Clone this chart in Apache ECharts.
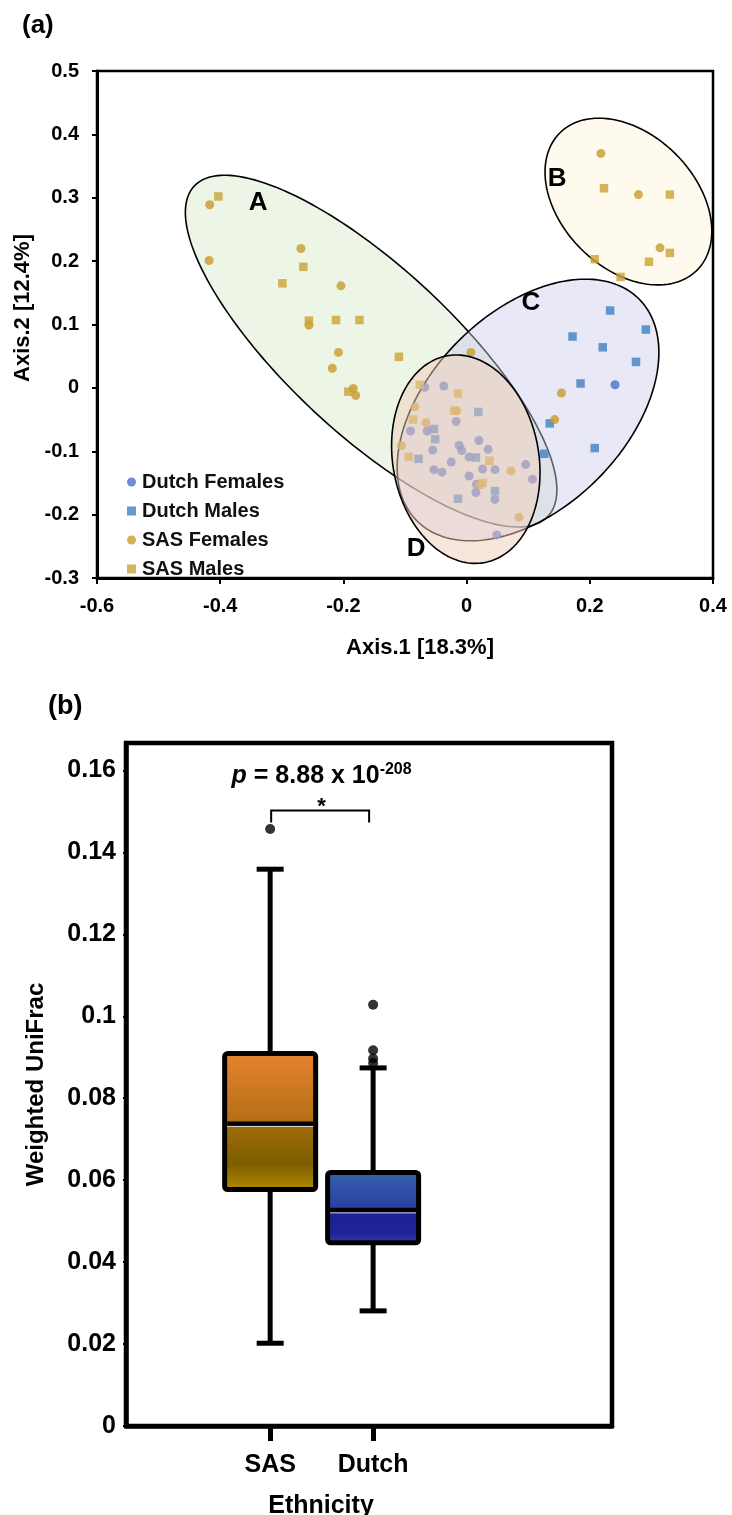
<!DOCTYPE html>
<html><head><meta charset="utf-8">
<script src="https://cdn.jsdelivr.net/npm/echarts@6/dist/echarts.min.js"></script>
<style>html,body{margin:0;padding:0;background:#fff}#main{width:732px;height:1515px}</style>
</head><body><div id="main"></div>
<script>
// ---------- Panel (a): PCoA scatter data ----------
const dutchFemales = [
  [0.241,0.005],
  [-0.068,0.001],[-0.037,0.003],[-0.017,-0.053],[-0.091,-0.068],[-0.064,-0.068],[0.020,-0.083],
  [-0.012,-0.091],[-0.008,-0.099],[0.035,-0.097],[-0.055,-0.098],[0.004,-0.109],[-0.025,-0.117],
  [0.096,-0.121],[0.026,-0.128],[0.046,-0.129],[-0.053,-0.129],[-0.040,-0.133],[0.004,-0.139],
  [0.107,-0.144],[0.016,-0.152],[0.015,-0.165],[0.046,-0.176],[0.049,-0.232]
];
const dutchMales = [
  [0.233,0.122],[0.291,0.092],[0.172,0.081],[0.221,0.064],[0.275,0.041],[0.185,0.007],
  [0.135,-0.056],[0.126,-0.104],[0.208,-0.095],
  [0.019,-0.038],[-0.053,-0.065],[-0.051,-0.081],[0.015,-0.110],[-0.078,-0.112],[0.046,-0.163],[-0.014,-0.175]
];
const sasFemales = [
  [-0.417,0.289],[-0.418,0.201],[-0.269,0.220],[-0.204,0.161],[-0.256,0.099],[-0.208,0.056],
  [-0.218,0.031],[-0.184,-0.001],[-0.180,-0.012],[0.218,0.370],[0.279,0.305],[0.314,0.221],
  [0.154,-0.008],[0.143,-0.050],[0.007,0.056],
  [-0.084,-0.030],[-0.016,-0.036],[-0.066,-0.055],[-0.106,-0.091],[0.072,-0.131],[0.022,-0.153],[0.085,-0.204]
];
const sasMales = [
  [-0.403,0.302],[-0.265,0.191],[-0.299,0.165],[-0.256,0.106],[-0.212,0.107],[-0.174,0.107],
  [-0.110,0.049],[-0.192,-0.006],[0.223,0.315],[0.330,0.305],[0.330,0.213],[0.208,0.203],
  [0.296,0.199],[0.250,0.175],
  [-0.076,0.005],[-0.014,-0.009],[-0.020,-0.036],[-0.087,-0.050],[-0.094,-0.109],[0.037,-0.115],[0.026,-0.150]
];
// cluster ellipses (data units): centre, half-axis vector U, half-axis vector V
const ellipseNames   = ['A','B','C','D'];
const ellipseCenters = [[-0.155,0.058],[0.2627,0.294],[0.0997,-0.0349],[-0.0013,-0.1125]];
const ellipseAxisU   = [[0.2872,-0.2604],[0.1114,-0.1082],[0.1802,0.1751],[-0.0299,0.1632]];
const ellipseAxisV   = [[-0.0919,-0.0958],[-0.0769,-0.0748],[0.1125,-0.1093],[0.1167,0.0202]];
const ellipseLabelPos = [[-0.3386,0.2918],[0.1468,0.3305],[0.1045,0.134],[-0.0821,-0.2542]];

// ---------- Panel (b): box plot data ----------
const ethnicities = ['SAS','Dutch'];
const boxMin    = [0.0202, 0.0281];
const boxQ1     = [0.0577, 0.0447];
const boxMedian = [0.0738, 0.0527];
const boxQ3     = [0.0909, 0.0619];
const boxMax    = [0.1359, 0.0874];
const sasOutliers   = [0.1457];
const dutchOutliers = [0.1028, 0.0917, 0.0897, 0.0886];
const pValueText = '8.88 x 10';
const pValueExp = '-208';

const FONT = '"Liberation Sans", Arial, Helvetica, sans-serif';
const chart = echarts.init(document.getElementById('main'), null, {renderer:'canvas'});

const ellipseFills = ['#edf5e6', '#fffaee', 'rgba(205,205,235,0.45)', 'rgba(240,205,185,0.5)'];

function ellipseRender(params, api) {
  const idx = api.value(2);
  const c = ellipseCenters[idx], u = ellipseAxisU[idx], v = ellipseAxisV[idx];
  const pts = [];
  for (let k = 0; k < 240; k++) {
    const t = k / 240 * Math.PI * 2;
    pts.push(api.coord([c[0] + Math.cos(t)*u[0] + Math.sin(t)*v[0], c[1] + Math.cos(t)*u[1] + Math.sin(t)*v[1]]));
  }
  return {type:'polygon', shape:{points:pts}, style:{fill: ellipseFills[idx], stroke:'#000', lineWidth:1.6}};
}

const boxGrads = [
  new echarts.graphic.LinearGradient(0,0,0,1,[
    {offset:0,color:'#e8832e'},{offset:0.49,color:'#b66f17'},{offset:0.52,color:'#a06c0a'},
    {offset:0.8,color:'#7c5e00'},{offset:1,color:'#b88e00'}]),
  new echarts.graphic.LinearGradient(0,0,0,1,[
    {offset:0,color:'#3862ad'},{offset:0.52,color:'#2a3ea2'},{offset:0.56,color:'#1c2096'},
    {offset:0.85,color:'#1e2498'},{offset:1,color:'#3048a8'}])
];

function boxRender(params, api) {
  const i = params.dataIndex;
  const x = api.value(0);
  const pMin = api.coord([x, api.value(1)]);
  const pQ1 = api.coord([x, api.value(2)]);
  const pMed = api.coord([x, api.value(3)]);
  const pQ3 = api.coord([x, api.value(4)]);
  const pMax = api.coord([x, api.value(5)]);
  const cx = pMin[0], hw = 45.5, cw = 13.5;
  const line = (x1,y1,x2,y2,w,c) => ({type:'line', shape:{x1,y1,x2,y2}, style:{stroke:c||'#000', lineWidth:w}});
  return {type:'group', children:[
    line(cx,pMax[1],cx,pQ3[1],5), line(cx-cw,pMax[1],cx+cw,pMax[1],5),
    line(cx,pQ1[1],cx,pMin[1],5), line(cx-cw,pMin[1],cx+cw,pMin[1],5),
    {type:'rect', shape:{x:cx-hw, y:pQ3[1], width:2*hw, height:pQ1[1]-pQ3[1], r:3},
      style:{fill: boxGrads[i], stroke:'#000', lineWidth:5}},
    line(cx-hw+2.5, pMed[1], cx+hw-2.5, pMed[1], 4.5),
    line(cx-hw+2.5, pMed[1]+2.8, cx+hw-2.5, pMed[1]+2.8, 1, '#dcdcdc')
  ]};
}

function annotationRender(params, api) {
  const pTxt = api.coord([1.5, 0.1585]);
  const pL = api.coord([1, 0.1502]), pR = api.coord([2, 0.1502]);
  const legBottom = api.coord([1, 0.1473])[1];
  const pStar = api.coord([1.5, 0.1512]);
  return {type:'group', children:[
    {type:'polyline', shape:{points:[[pL[0]+1, legBottom],[pL[0]+1,pL[1]],[pR[0]-4,pR[1]],[pR[0]-4,legBottom]]},
      style:{stroke:'#000', lineWidth:2, fill:null}},
    {type:'text', x:pStar[0], y:pStar[1], style:{text:'*', font:'bold 22px ' + FONT, fill:'#000', align:'center', verticalAlign:'middle'}},
    {type:'text', x:pTxt[0], y:pTxt[1], style:{
      text:'{i|p}{n| = ' + pValueText + '}{s|' + pValueExp + '}',
      align:'center', verticalAlign:'middle',
      rich:{
        i:{fontFamily:FONT, fontSize:25, fontWeight:'bold', fontStyle:'italic', fill:'#000', lineHeight:30},
        n:{fontFamily:FONT, fontSize:25, fontWeight:'bold', fill:'#000', lineHeight:30},
        s:{fontFamily:FONT, fontSize:16, fontWeight:'bold', fill:'#000', lineHeight:18, verticalAlign:'top'}
      }}}
  ]};
}

function labelRender(params, api) {
  const p = api.coord([api.value(0), api.value(1)]);
  return {type:'text', x:p[0], y:p[1], style:{text: ellipseNames[params.dataIndex], font:'bold 26px ' + FONT, fill:'#000', align:'center', verticalAlign:'middle'}};
}

const option = {
  animation: false,
  backgroundColor: '#fff',
  textStyle: {fontFamily: FONT},
  graphic: [
    {type:'text', left:22, top:13, style:{text:'(a)', font:'bold 26px ' + FONT, fill:'#000'}},
    {type:'text', left:48, top:693, style:{text:'(b)', font:'bold 27px ' + FONT, fill:'#000'}}
  ],
  legend: {
    orient:'vertical', left:122, top:467, itemGap:9, itemWidth:9, itemHeight:9,
    data:['Dutch Females','Dutch Males','SAS Females','SAS Males'],
    textStyle:{fontFamily:FONT, fontSize:20, fontWeight:'bold', color:'#111', lineHeight:20, padding:[0,0,0,1]}
  },
  grid: [
    {left:97, top:71, width:616, height:507, show:true, borderColor:'#000', borderWidth:2.5,
      containLabel:false, outerBoundsMode:'none'},
    {left:126, top:743, width:486, height:683, show:true, borderColor:'#000', borderWidth:4.5,
      containLabel:false, outerBoundsMode:'none'}
  ],
  xAxis: [
    {gridIndex:0, type:'value', min:-0.6, max:0.4, interval:0.2,
      name:'Axis.1 [18.3%]', nameLocation:'middle', nameGap:59,
      nameTextStyle:{fontFamily:FONT, fontSize:22, fontWeight:'bold', color:'#000', padding:[0,0,0,30]},
      axisLine:{onZero:false, lineStyle:{color:'#000', width:3}},
      axisTick:{inside:false, length:6, lineStyle:{color:'#000', width:2}},
      axisLabel:{fontFamily:FONT, fontSize:20, fontWeight:'bold', color:'#000', margin:18},
      splitLine:{show:false}},
    {gridIndex:1, type:'value', min:-0.4, max:4.32,
      name:'Ethnicity', nameLocation:'middle', nameGap:68,
      nameTextStyle:{fontFamily:FONT, fontSize:25, fontWeight:'bold', color:'#000', padding:[0,96,0,0]},
      axisLine:{onZero:false, lineStyle:{color:'#000', width:4.5}},
      axisTick:{customValues:[1,2], length:15, lineStyle:{color:'#000', width:5}},
      axisLabel:{customValues:[1,2], formatter:(v)=>ethnicities[Math.round(v)-1] || '',
        fontFamily:FONT, fontSize:25, fontWeight:'bold', color:'#000', margin:27},
      splitLine:{show:false}}
  ],
  yAxis: [
    {gridIndex:0, type:'value', min:-0.3, max:0.5, interval:0.1,
      name:'Axis.2 [12.4%]', nameLocation:'middle', nameGap:63, nameRotate:90,
      nameTextStyle:{fontFamily:FONT, fontSize:22, fontWeight:'bold', color:'#000', padding:[0,0,0,33]},
      axisLine:{onZero:false, lineStyle:{color:'#000', width:3}},
      axisTick:{inside:false, length:5, lineStyle:{color:'#000', width:2}},
      axisLabel:{fontFamily:FONT, fontSize:20, fontWeight:'bold', color:'#000', margin:18},
      splitLine:{show:false}},
    {gridIndex:1, type:'value', min:0, max:0.1667, interval:0.02,
      name:'Weighted UniFrac', nameLocation:'middle', nameGap:78, nameRotate:90,
      nameTextStyle:{fontFamily:FONT, fontSize:24, fontWeight:'bold', color:'#000'},
      axisLine:{onZero:false, lineStyle:{color:'#000', width:4.5}},
      axisTick:{inside:false, length:3, lineStyle:{color:'#000', width:2}},
      axisLabel:{fontFamily:FONT, fontSize:25, fontWeight:'bold', color:'#000', margin:10, showMaxLabel:false},
      splitLine:{show:false}}
  ],
  series: [
    {type:'custom', name:'ellipses', xAxisIndex:0, yAxisIndex:0, z:1, silent:true,
      data:[0,1,2].map(i=>[ellipseCenters[i][0], ellipseCenters[i][1], i]),
      encode:{x:0,y:1}, renderItem: ellipseRender},
    {type:'scatter', name:'Dutch Females', xAxisIndex:0, yAxisIndex:0, z:2, symbol:'circle', symbolSize:9,
      itemStyle:{color:'#4a6fcb'}, data:dutchFemales},
    {type:'scatter', name:'Dutch Males', xAxisIndex:0, yAxisIndex:0, z:2, symbol:'rect', symbolSize:8.5,
      itemStyle:{color:'#3f7fc6'}, data:dutchMales},
    {type:'scatter', name:'SAS Females', xAxisIndex:0, yAxisIndex:0, z:2, symbol:'circle', symbolSize:9,
      itemStyle:{color:'#c89b2c'}, data:sasFemales},
    {type:'scatter', name:'SAS Males', xAxisIndex:0, yAxisIndex:0, z:2, symbol:'rect', symbolSize:8.5,
      itemStyle:{color:'#caa232'}, data:sasMales},
    {type:'custom', name:'ellipseD', xAxisIndex:0, yAxisIndex:0, z:3, silent:true,
      data:[[ellipseCenters[3][0], ellipseCenters[3][1], 3]],
      encode:{x:0,y:1}, renderItem: ellipseRender},
    {type:'custom', name:'ellipseLabels', xAxisIndex:0, yAxisIndex:0, z:4, silent:true,
      data: ellipseLabelPos, encode:{x:0,y:1}, renderItem: labelRender},
    {type:'custom', name:'box', xAxisIndex:1, yAxisIndex:1, z:3,
      data: ethnicities.map((c,i)=>[i+1, boxMin[i], boxQ1[i], boxMedian[i], boxQ3[i], boxMax[i]]),
      encode:{x:0, y:[1,2,3,4,5]}, renderItem: boxRender},
    {type:'scatter', name:'outliers', xAxisIndex:1, yAxisIndex:1, z:4, symbol:'circle', symbolSize:10,
      itemStyle:{color:'#000'},
      data: sasOutliers.map(v=>[1,v]).concat(dutchOutliers.map(v=>[2,v]))},
    {type:'custom', name:'annotation', xAxisIndex:1, yAxisIndex:1, z:5, silent:true,
      data:[[1.5, 0.1588]], encode:{x:0,y:1}, renderItem: annotationRender}
  ]
};
chart.setOption(option);
</script></body></html>
